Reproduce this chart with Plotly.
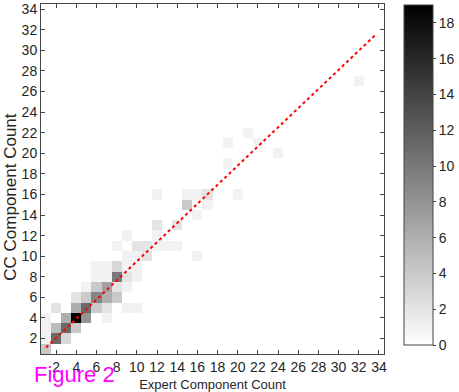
import numpy as np
import plotly.graph_objects as go

# Cell data: expert count (x), CC count (y), frequency
cell_x = [1, 1, 2, 3, 1, 2, 3, 4, 1, 3, 4, 5, 7, 2, 4, 5, 6, 7, 9, 10,
          4, 5, 6, 7, 8, 5, 6, 7, 8, 9, 6, 7, 8, 9, 10, 6, 7, 8, 9, 10,
          9, 10, 11, 16, 8, 10, 11, 12, 13, 14, 9, 12, 12, 14, 16,
          15, 17, 12, 15, 16, 17, 20, 19, 24, 19, 22, 21, 32]
cell_y = [1, 2, 2, 2, 3, 3, 3, 3, 4, 4, 4, 4, 4, 5, 5, 5, 5, 5, 5, 5,
          6, 6, 6, 6, 6, 7, 7, 7, 7, 7, 8, 8, 8, 8, 8, 9, 9, 9, 9, 9,
          10, 10, 10, 10, 11, 11, 11, 11, 11, 11, 12, 12, 13, 13, 14,
          15, 15, 16, 16, 16, 16, 16, 19, 20, 21, 21, 22, 27]
cell_v = [4, 1, 11, 3, 1, 5, 11, 4, 1, 6, 19, 8, 1, 2, 6, 11, 4, 2, 1, 1,
          2, 4, 9, 6, 4, 1, 4, 7, 2, 1, 1, 1, 10, 2, 1, 1, 1, 3, 1, 1,
          1, 1, 2, 1, 1, 2, 2, 1, 1, 1, 1, 1, 2, 2, 1,
          4, 1, 1, 1, 1, 2, 1, 1, 1, 1, 1, 1, 1]

axis_vals = list(range(1, 35))
tick_vals = list(range(2, 35, 2))
cbar_ticks = list(range(0, 19, 2))

# Fitted line parameters
fit_slope = 0.93
fit_intercept = 0.2
fit_x = [1.0, 33.7]

n = len(axis_vals)
z = np.zeros((n, n))
for xx, yy, vv in zip(cell_x, cell_y, cell_v):
    z[yy - 1, xx - 1] = vv

fit_y = [fit_slope * v + fit_intercept for v in fit_x]

FONT = "Arial, Liberation Sans, sans-serif"
TXT = "#262626"

fig = go.Figure()
fig.add_trace(go.Heatmap(
    x=axis_vals, y=axis_vals, z=z,
    zmin=0, zmax=19,
    colorscale=[[0, "white"], [1, "black"]],
    showscale=True,
    hoverinfo="skip",
    colorbar=dict(
        x=(412 - 41) / 351, xanchor="left", xref="paper",
        y=(354 - 345) / 350, yanchor="bottom",
        len=340 / 350, lenmode="fraction",
        thickness=29, thicknessmode="pixels",
        outlinewidth=1, outlinecolor="#444444",
        tickvals=cbar_ticks,
        ticks="outside", ticklen=3, tickcolor="#444444",
        tickfont=dict(family=FONT, size=14, color=TXT),
        xpad=0, ypad=0,
    ),
))
fig.add_trace(go.Scatter(
    x=fit_x, y=fit_y, mode="lines",
    line=dict(color="red", width=2, dash="dot"),
    hoverinfo="skip", showlegend=False,
))

axis_common = dict(
    tickvals=tick_vals,
    ticks="inside", ticklen=4, tickcolor="#444444",
    showline=True, linecolor="#444444", linewidth=1,
    mirror="ticks", showgrid=False, zeroline=False,
    tickfont=dict(family=FONT, size=14, color=TXT),
    automargin=False,
)
fig.update_xaxes(range=[0.5, 34.5], title=dict(text="Expert Component Count",
                 font=dict(family=FONT, size=13, color=TXT), standoff=6),
                 **axis_common)
fig.update_yaxes(range=[0.5, 34.5], **axis_common)

fig.add_annotation(
    text="CC Component Count", xref="paper", yref="paper",
    x=(10 - 41) / 351, y=(354 - 197) / 350, xanchor="center", yanchor="middle",
    textangle=-90, showarrow=False,
    font=dict(family=FONT, size=17, color=TXT),
)
fig.add_annotation(
    text="Figure 2", xref="paper", yref="paper",
    x=(32 - 41) / 351, y=(354 - 374) / 350, xanchor="left", yanchor="middle",
    showarrow=False, font=dict(family=FONT, size=22, color="#ff00ff"),
)

fig.update_layout(
    width=459, height=392,
    margin=dict(l=41, r=67, t=4, b=38),
    plot_bgcolor="white", paper_bgcolor="white",
    showlegend=False,
)

fig.write_html("out.html")
